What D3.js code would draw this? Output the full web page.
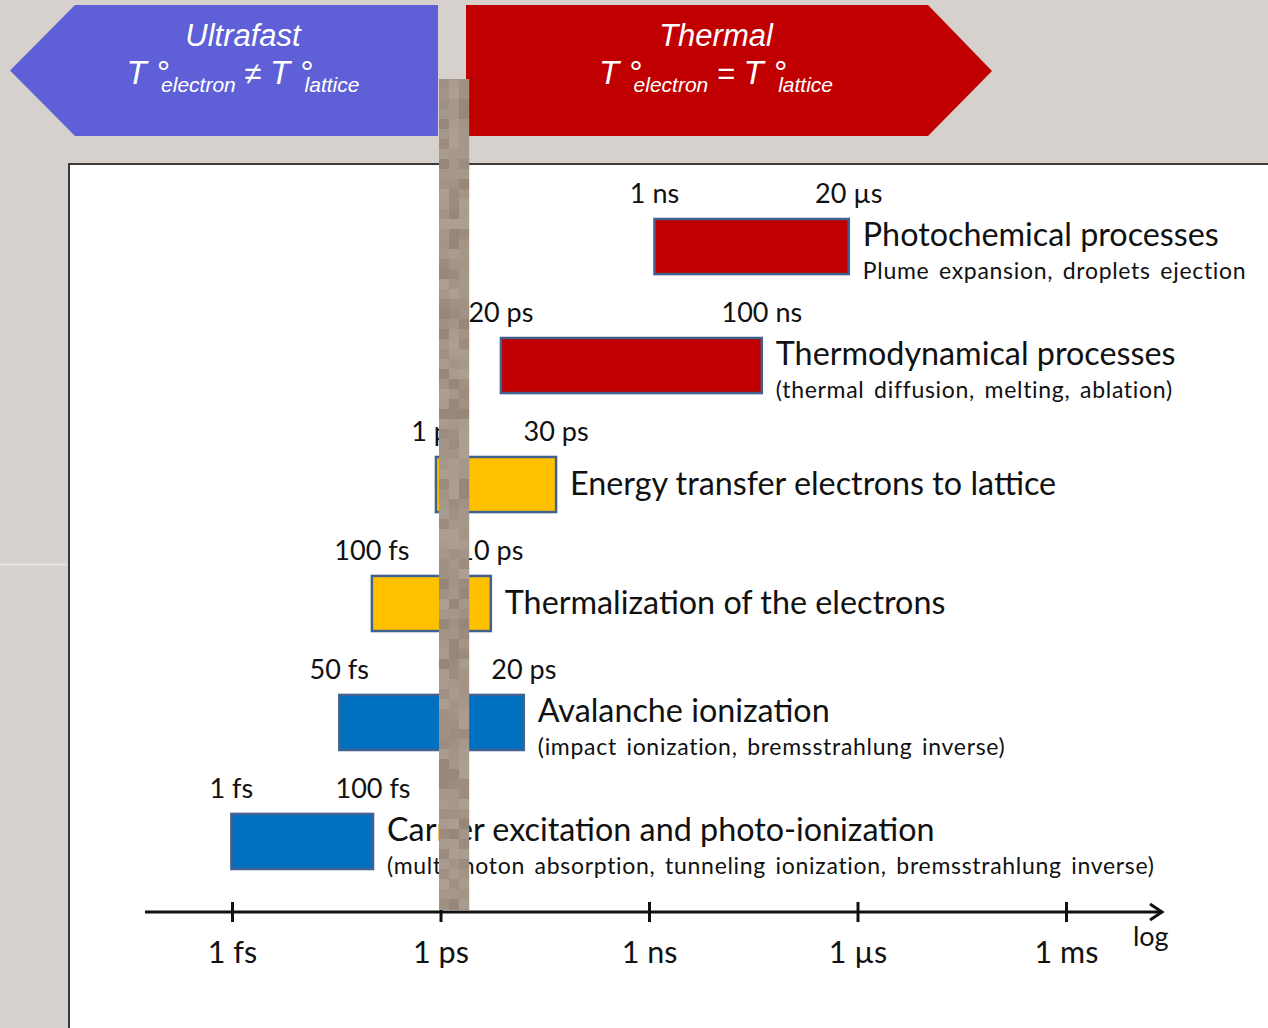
<!DOCTYPE html>
<html>
<head>
<meta charset="utf-8">
<script src="https://cdn.jsdelivr.net/npm/d3@7"></script>
<style>
  html, body { margin: 0; padding: 0; background: #d6d1cc; }
  svg { display: block; }
</style>
</head>
<body>
<svg id="chart" width="1268" height="1028"></svg>
<script>
// ---------- data ----------
const categories = [
  "Photochemical processes",
  "Thermodynamical processes",
  "Energy transfer electrons to lattice",
  "Thermalization of the electrons",
  "Avalanche ionization",
  "Carrier excitation and photo-ionization"
];
const subtitles = [
  "Plume expansion, droplets ejection",
  "(thermal diffusion, melting, ablation)",
  "",
  "",
  "(impact ionization, bremsstrahlung inverse)",
  "(multiphoton absorption, tunneling ionization, bremsstrahlung inverse)"
];
// bar extents in seconds, as drawn in the picture
const startTimes = [1.2e-9, 7.4e-12, 8.6e-13, 1.03e-13, 3.5e-14, 9.8e-16];
const endTimes   = [7.5e-7, 4.2e-8, 4.6e-11, 5.3e-12, 1.58e-11, 1.07e-13];
const startLabels = ["1 ns", "20 ps", "1 ps", "100 fs", "50 fs", "1 fs"];
const endLabels   = ["20 \u00b5s", "100 ns", "30 ps", "10 ps", "20 ps", "100 fs"];
const regimes = ["thermal", "thermal", "transfer", "transfer", "ultrafast", "ultrafast"];
const tickValues = [1e-15, 1e-12, 1e-9, 1e-6, 1e-3];
const tickLabels = ["1 fs", "1 ps", "1 ns", "1 \u00b5s", "1 ms"];
const axisName = "log";

// ---------- styles ----------
const regimeColor = { thermal: "#c00000", transfer: "#ffc000", ultrafast: "#0070c0" };
const FONT = "Lato, 'Open Sans', sans-serif";

const svg = d3.select("#chart");
const W = 1268, H = 1028;

// background
svg.append("rect").attr("width", W).attr("height", H).attr("fill", "#d6d1cc");
svg.append("line").attr("x1", 0).attr("x2", 67).attr("y1", 564.5).attr("y2", 564.5)
  .attr("stroke", "#ebe8e5").attr("stroke-width", 1.5);

// white panel
svg.append("rect").attr("x", 68).attr("y", 163).attr("width", W - 68).attr("height", H - 163)
  .attr("fill", "#ffffff");
svg.append("path").attr("d", `M69,${H} V164 H${W}`)
  .attr("fill", "none").attr("stroke", "#3a3a3a").attr("stroke-width", 2);

// ---------- header arrows ----------
svg.append("polygon")
  .attr("points", "438,5 75,5 10,70.5 75,136 438,136")
  .attr("fill", "#5f5fd7");
svg.append("polygon")
  .attr("points", "466,5 928,5 992,71 928,136 466,136")
  .attr("fill", "#c00000");

function header(cx, title, rel) {
  const g = svg.append("g").attr("fill", "#ffffff")
    .attr("font-family", "'Liberation Sans', Arial, sans-serif").attr("font-style", "italic");
  g.append("text").attr("x", cx).attr("y", 46).attr("text-anchor", "middle")
    .attr("font-size", 31).text(title);
  const t = g.append("text").attr("x", cx).attr("y", 84).attr("text-anchor", "middle")
    .attr("font-size", 33);
  t.append("tspan").text("T \u00b0");
  t.append("tspan").attr("font-size", 21).attr("dx", -8).attr("dy", 8).text("electron");
  t.append("tspan").attr("font-size", 31).attr("dy", -8).text(" " + rel + " ");
  t.append("tspan").text("T \u00b0");
  t.append("tspan").attr("font-size", 21).attr("dx", -8).attr("dy", 8).text("lattice");
}
header(243, "Ultrafast", "\u2260");
header(716, "Thermal", "=");

// ---------- scales ----------
const x = d3.scaleLog().domain([1e-15, 1e-3]).range([232, 1066]);
const y = d3.scaleBand().domain(categories).range([219, 869]).paddingInner(0.537).paddingOuter(0);

const rows = categories.map((c, i) => ({
  name: c, sub: subtitles[i], s: startTimes[i], e: endTimes[i],
  sl: startLabels[i], el: endLabels[i], regime: regimes[i]
}));

// bars
svg.append("g").selectAll("rect").data(rows).join("rect")
  .attr("x", d => x(d.s))
  .attr("y", d => y(d.name))
  .attr("width", d => x(d.e) - x(d.s))
  .attr("height", y.bandwidth())
  .attr("fill", d => regimeColor[d.regime])
  .attr("stroke", "#41618f")
  .attr("stroke-width", 2.5);

// end labels
const lab = svg.append("g").attr("font-family", FONT).attr("font-size", 27).attr("fill", "#111")
  .attr("text-anchor", "middle");
lab.selectAll("text.sl").data(rows).join("text").attr("class", "sl")
  .attr("x", d => x(d.s)).attr("y", d => y(d.name) - 16).text(d => d.sl);
lab.selectAll("text.el").data(rows).join("text").attr("class", "el")
  .attr("x", d => x(d.e)).attr("y", d => y(d.name) - 16).text(d => d.el);

// titles and subtitles
const tg = svg.append("g").attr("font-family", FONT).attr("fill", "#111");
tg.selectAll("text.title").data(rows).join("text").attr("class", "title")
  .attr("x", d => x(d.e) + 14)
  .attr("y", d => y(d.name) + (d.sub ? 27 : 38))
  .attr("font-size", 32.3)
  .text(d => d.name);
tg.selectAll("text.sub").data(rows.filter(d => d.sub)).join("text").attr("class", "sub")
  .attr("x", d => x(d.e) + 14)
  .attr("y", d => y(d.name) + 60)
  .attr("font-size", 23)
  .attr("letter-spacing", 0.7)
  .attr("word-spacing", 3)
  .text(d => d.sub);

// ---------- axis ----------
const axisY = 912;
const axis = d3.axisBottom(x).tickValues(tickValues)
  .tickFormat((d, i) => tickLabels[i]).tickSize(10).tickPadding(24);
const ag = svg.append("g").attr("transform", `translate(0,${axisY})`).call(axis);
ag.select(".domain").remove();
ag.selectAll(".tick line").attr("y1", -10).attr("y2", 10)
  .attr("stroke", "#111").attr("stroke-width", 3);
ag.selectAll(".tick text").attr("font-family", FONT).attr("font-size", 30.5)
  .attr("fill", "#111").attr("dy", "0.55em");

// mosaic column (obscured region in the reference), drawn over the plot
const mosaicShades = ["#a19183", "#a99b8e", "#978778", "#a5978a", "#9c8c7f", "#ac9e91", "#a39486"];
const mosaicRows = d3.range(79, 910, 10);
const mosaicCols = [0, 1, 2];
const mg = svg.append("g");
function shadeIndex(r, c) {
  const h = Math.sin(r * 12.9898 + c * 78.233) * 43758.5453;
  return Math.floor((h - Math.floor(h)) * mosaicShades.length);
}
mosaicRows.forEach((yy, r) => {
  mosaicCols.forEach(c => {
    mg.append("rect")
      .attr("x", x(1e-12) - 1.5 + c * 10).attr("y", yy)
      .attr("width", 10.2).attr("height", Math.min(10.2, 910 - yy))
      .attr("fill", mosaicShades[shadeIndex(r, c)]);
  });
});

// axis line with arrow head (drawn on top)
svg.append("line").attr("x1", 145).attr("x2", 1160).attr("y1", axisY).attr("y2", axisY)
  .attr("stroke", "#111").attr("stroke-width", 3);
svg.append("path").attr("d", `M1150,${axisY - 8} L1162,${axisY} L1150,${axisY + 8}`)
  .attr("fill", "none").attr("stroke", "#111").attr("stroke-width", 3);
svg.append("text").attr("x", 1133).attr("y", 946).attr("font-family", FONT)
  .attr("font-size", 27).attr("fill", "#111").text(axisName);
</script>
</body>
</html>
